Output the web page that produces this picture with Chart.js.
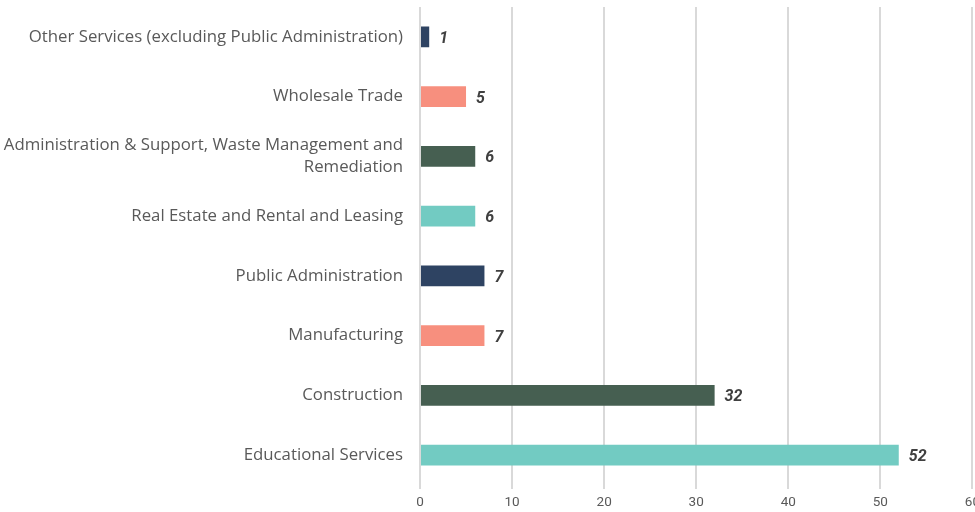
<!DOCTYPE html>
<html>
<head>
<meta charset="utf-8">
<script src="https://cdn.jsdelivr.net/npm/chart.js@4"></script>
<style>
  html, body { margin: 0; padding: 0; background: #ffffff; overflow: hidden; }
  #wrap { width: 986px; height: 512px; }
</style>
</head>
<body>
<div id="wrap"><canvas id="c"></canvas></div>
<script>
const categories = [
  "Other Services (excluding Public Administration)",
  "Wholesale Trade",
  ["Administration & Support, Waste Management and", "Remediation"],
  "Real Estate and Rental and Leasing",
  "Public Administration",
  "Manufacturing",
  "Construction",
  "Educational Services"
];
const values = [1, 5, 6, 6, 7, 7, 32, 52];
const barColors = ["#2e4362", "#f78f7e", "#465f51", "#72cbc2", "#2e4362", "#f78f7e", "#465f51", "#72cbc2"];
const xTicks = [0, 10, 20, 30, 40, 50, 60];

const valueLabels = {
  id: 'valueLabels',
  afterDatasetsDraw(chart) {
    const ctx = chart.ctx;
    const meta = chart.getDatasetMeta(0);
    ctx.save();
    ctx.font = 'italic bold 16px Roboto';
    ctx.fillStyle = '#404040';
    ctx.textAlign = 'left';
    ctx.textBaseline = 'middle';
    meta.data.forEach((bar, i) => {
      ctx.fillText(String(values[i]), bar.x + 10, bar.y + 2);
    });
    ctx.restore();
  }
};

new Chart(document.getElementById('c'), {
  type: 'bar',
  data: {
    labels: categories,
    datasets: [{
      data: values,
      backgroundColor: barColors,
      borderWidth: 0,
      barPercentage: 0.7,
      categoryPercentage: 0.5
    }]
  },
  options: {
    indexAxis: 'y',
    responsive: true,
    maintainAspectRatio: false,
    animation: false,
    layout: { padding: { top: 7, bottom: 0, left: 0, right: 0 } },
    plugins: { legend: { display: false }, tooltip: { enabled: false } },
    scales: {
      x: {
        min: 0, max: 60,
        afterBuildTicks(scale) { scale.ticks = xTicks.map(v => ({ value: v })); },
        afterFit(scale) { scale.height = 27; },
        grid: { color: '#d9d9d9', lineWidth: 2, drawTicks: true, tickLength: 4 },
        border: { display: false },
        ticks: { color: '#595959', font: { family: 'Roboto', size: 13.5 }, padding: 6 }
      },
      y: {
        afterFit(scale) { scale.width = 420; scale.paddingTop = 0; scale.paddingBottom = 0; },
        grid: { display: false },
        border: { display: false },
        ticks: { color: '#595959', font: { family: 'Open Sans', size: 16.8, lineHeight: 1.35 }, padding: 9 }
      }
    }
  },
  plugins: [valueLabels]
});
</script>
</body>
</html>
